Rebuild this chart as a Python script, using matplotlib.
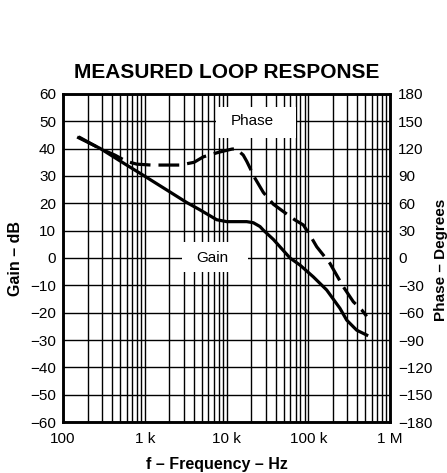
import matplotlib
matplotlib.use("Agg")
import matplotlib.pyplot as plt
from matplotlib.patches import Rectangle
from matplotlib.ticker import LogLocator, NullFormatter, FixedLocator

plt.rcParams['font.family'] = ['Liberation Sans', 'DejaVu Sans']

# measured gain (dB) vs frequency (Hz)
gain_freq = [155, 284, 600, 875, 1855, 3260, 4740, 7590, 10050, 17670, 21300,
             25700, 28200, 37400, 45100, 59800, 79300, 115300, 168000,
             244000, 295000, 391000, 519000]
gain_db = [44, 40.1, 34, 31, 24.9, 20.3, 17.6, 14, 13.3, 13.3, 12.9,
           11.5, 10.2, 6.8, 4.1, 0, -2.6, -6.9, -11.7,
           -18.4, -22.7, -26.4, -28.2]

# measured phase (degrees) vs frequency (Hz)
phase_freq = [155, 284, 430, 600, 800, 1200, 2700, 4000, 5200, 8000, 11600,
              13000, 16000, 17700, 22300, 28200, 37400, 49500, 68900, 86900,
              105000, 127000, 184500, 268000, 355700, 450500, 519000]
phase_deg = [133, 120, 113, 106, 103, 102, 102, 105, 111, 116, 119.5,
             120, 113, 106, 87.5, 72, 59, 51, 41.7, 36.3,
             25, 12.3, -6, -31.5, -48, -57, -64]

gain_ticks = list(range(-60, 61, 10))
phase_ticks = list(range(-180, 181, 30))
freq_ticks = [100, 1e3, 1e4, 1e5, 1e6]
freq_labels = ['100', '1 k', '10 k', '100 k', '1 M']

fig = plt.figure(figsize=(4.47, 4.73), dpi=100)
ax = fig.add_axes([0.141, 0.1078, 0.7315, 0.6935])

ax.set_xscale('log')
ax.set_xlim(100, 1e6)
ax.set_ylim(-60, 60)
ax.xaxis.set_major_locator(FixedLocator(freq_ticks))
ax.set_xticklabels(freq_labels)
ax.xaxis.set_minor_locator(LogLocator(base=10, subs=range(2, 10)))
ax.xaxis.set_minor_formatter(NullFormatter())
ax.set_yticks(gain_ticks)
ax.set_yticklabels([str(v).replace('-', '\u2212') for v in gain_ticks])

ax.grid(True, which='both', axis='x', color='black', lw=1.0)
ax.grid(True, which='major', axis='y', color='black', lw=1.0)
ax.tick_params(which='both', length=0, labelsize=11)
ax.tick_params(axis='x', pad=7)
ax.tick_params(axis='y', pad=5)
for s in ax.spines.values():
    s.set_linewidth(1.8)

ax.plot(gain_freq, gain_db, color='black', lw=2.3, zorder=4)

ax2 = ax.twinx()
ax2.set_ylim(-180, 180)
ax2.set_yticks(phase_ticks)
ax2.set_yticklabels([str(v).replace('-', '\u2212') for v in phase_ticks])
ax2.tick_params(length=0, labelsize=11, pad=6)
for s in ax2.spines.values():
    s.set_linewidth(1.8)
ax2.plot(phase_freq, phase_deg, color='black', lw=2.3, dashes=(6.5, 2.5), zorder=4)

# white label boxes covering the grid
ax.add_patch(Rectangle((0.469, 0.867), 0.245, 0.092, transform=ax.transAxes,
                       facecolor='white', edgecolor='none', zorder=3))
ax.text(2.05e4, 50, 'Phase', ha='center', va='center', fontsize=11, zorder=5)
ax.add_patch(Rectangle((0.364, 0.457), 0.202, 0.092, transform=ax.transAxes,
                       facecolor='white', edgecolor='none', zorder=3))
ax.text(6.65e3, 0, 'Gain', ha='center', va='center', fontsize=11, zorder=5)

fig.text(0.508, 0.846, 'MEASURED LOOP RESPONSE', ha='center', va='center',
         fontsize=15, fontweight='bold')
fig.text(0.034, 0.453, 'Gain \u2013 dB', rotation=90, ha='center', va='center',
         fontsize=11.5, fontweight='bold')
fig.text(0.986, 0.45, 'Phase \u2013 Degrees', rotation=90, ha='center', va='center',
         fontsize=11, fontweight='bold')
fig.text(0.486, 0.017, 'f \u2013 Frequency \u2013 Hz', ha='center', va='center',
         fontsize=11.5, fontweight='bold')

fig.savefig('out.png', dpi=100)
